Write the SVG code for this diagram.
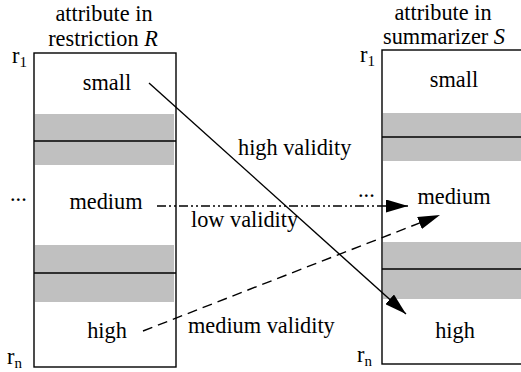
<svg xmlns="http://www.w3.org/2000/svg" width="521" height="372" viewBox="0 0 521 372" font-family="'Liberation Serif','Times New Roman',serif">
<defs>
<style>
text{font-family:"Liberation Serif","Times New Roman",serif;font-size:22.3px;fill:#000}
.box{fill:#fff;stroke:#000;stroke-width:1.4}
.band{fill:#c0c0c0;stroke:none}
.div{stroke:#000;stroke-width:1.4}
.c{stroke:#000;stroke-width:1.4;fill:none}
.sub{font-size:15px}
</style>
<marker id="ah" markerUnits="userSpaceOnUse" markerWidth="22" markerHeight="13" refX="22" refY="6.5" orient="auto">
<path d="M0,0 L22,6.5 L0,13 z" fill="#000"/>
</marker>
</defs>
<rect width="521" height="372" fill="#fff"/>
<g id="restriction">
<rect class="box" x="34" y="53" width="142" height="314"/>
<rect class="band" x="35" y="114" width="139" height="51"/>
<line class="div" x1="34" y1="141" x2="176" y2="141"/>
<rect class="band" x="35" y="245" width="139" height="57"/>
<line class="div" x1="34" y1="273" x2="176" y2="273"/>
<text x="104" y="21" text-anchor="middle">attribute in</text>
<text x="103" y="46" text-anchor="middle">restriction <tspan font-style="italic">R</tspan></text>
<text x="107" y="90" text-anchor="middle">small</text>
<text x="106" y="209" text-anchor="middle">medium</text>
<text x="107" y="338" text-anchor="middle">high</text>
<text x="12" y="63">r<tspan class="sub" dy="4">1</tspan></text>
<text x="10" y="201">...</text>
<text x="7" y="364">r<tspan class="sub" dy="4">n</tspan></text>
</g>
<g id="summarizer">
<rect class="box" x="382" y="50" width="150" height="314"/>
<rect class="band" x="383" y="113" width="140" height="48"/>
<line class="div" x1="382" y1="137" x2="523" y2="137"/>
<rect class="band" x="383" y="242" width="140" height="57"/>
<line class="div" x1="382" y1="269" x2="523" y2="269"/>
<text x="443" y="19.5" text-anchor="middle">attribute in</text>
<text x="444" y="43.5" text-anchor="middle">summarizer <tspan font-style="italic">S</tspan></text>
<text x="454" y="87" text-anchor="middle">small</text>
<text x="454" y="204" text-anchor="middle">medium</text>
<text x="455" y="338" text-anchor="middle">high</text>
<text x="360" y="62">r<tspan class="sub" dy="4">1</tspan></text>
<text x="358" y="197">...</text>
<text x="357" y="362">r<tspan class="sub" dy="4">n</tspan></text>
</g>
<g id="connectors">
<line class="c" x1="149" y1="83" x2="406" y2="314" marker-end="url(#ah)"/>
<line class="c" x1="157" y1="206" x2="408" y2="206" stroke-dasharray="9 3 2 3 2 3" marker-end="url(#ah)"/>
<line class="c" x1="143" y1="331" x2="440" y2="215" stroke-dasharray="10 6" marker-end="url(#ah)"/>
<text x="238" y="155">high validity</text>
<text x="191" y="227">low validity</text>
<text x="188" y="333">medium validity</text>
</g>
</svg>
